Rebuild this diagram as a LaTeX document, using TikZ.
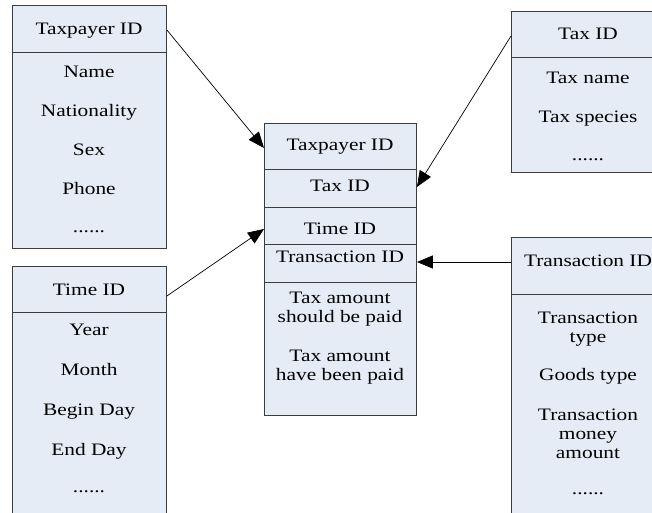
\documentclass[tikz,border=0pt]{standalone}
\usepackage{fontspec}
\setmainfont{Liberation Serif}[FakeStretch=1.22]
\usetikzlibrary{arrows.meta,calc}
\definecolor{boxfill}{RGB}{230,236,246}
\definecolor{boxline}{RGB}{60,60,60}
\tikzset{
  box/.style={draw=boxline, fill=boxfill, line width=0.9pt, inner sep=0pt, anchor=north west},
  sep/.style={draw=boxline, line width=0.9pt},
  fld/.style={anchor=base, inner sep=0pt, font=\fontsize{17.5}{19}\selectfont},
  arr/.style={draw=black, line width=0.7pt, -{Triangle[length=16pt,width=13pt]}}
}
\begin{document}
\begin{tikzpicture}[x=1pt,y=-1pt]
\useasboundingbox (0,0) rectangle (652,512);
\clip (0,0) rectangle (652,512);

% Taxpayer dimension
\node[box, minimum width=154pt, minimum height=243pt] (tp) at (12,5) {};
\draw[sep] (12,52) -- (166,52);
\node[fld] (tp1) at (89,34) {Taxpayer ID};
\node[fld] (tp2) at (89,77) {Name};
\node[fld] (tp3) at (89,116) {Nationality};
\node[fld] (tp4) at (89,155) {Sex};
\node[fld] (tp5) at (89,194) {Phone};
\node[fld] (tp6) at (89,232) {......};

% Time dimension
\node[box, minimum width=154pt, minimum height=270pt] (tm) at (12,266) {};
\draw[sep] (12,312) -- (166,312);
\node[fld] (tm1) at (89,295) {Time ID};
\node[fld] (tm2) at (89,335) {Year};
\node[fld] (tm3) at (89,375) {Month};
\node[fld] (tm4) at (89,415) {Begin Day};
\node[fld] (tm5) at (89,455) {End Day};
\node[fld] (tm6) at (89,492) {......};

% Fact table
\node[box, minimum width=152pt, minimum height=292pt] (fact) at (264,123) {};
\draw[sep] (264,169) -- (416,169);
\draw[sep] (264,207) -- (416,207);
\draw[sep] (264,244) -- (416,244);
\draw[sep] (264,282) -- (416,282);
\node[fld] (f1) at (340,150) {Taxpayer ID};
\node[fld] (f2) at (340,191) {Tax ID};
\node[fld] (f3) at (340,234) {Time ID};
\node[fld] (f4) at (340,262) {Transaction ID};
\node[fld] (f5) at (340,303) {Tax amount};
\node[fld] (f6) at (340,322) {should be paid};
\node[fld] (f7) at (340,361) {Tax amount};
\node[fld] (f8) at (340,380) {have been paid};

% Tax dimension
\node[box, minimum width=160pt, minimum height=161pt] (tx) at (511,11) {};
\draw[sep] (511,57) -- (671,57);
\node[fld] (tx1) at (588,39) {Tax ID};
\node[fld] (tx2) at (588,83) {Tax name};
\node[fld] (tx3) at (588,122) {Tax species};
\node[fld] (tx4) at (588,160) {......};

% Transaction dimension
\node[box, minimum width=160pt, minimum height=300pt] (tr) at (511,237) {};
\draw[sep] (511,294) -- (671,294);
\node[fld] (tr1) at (588,266) {Transaction ID};
\node[fld] (tr2) at (588,323) {Transaction};
\node[fld] (tr3) at (588,342) {type};
\node[fld] (tr4) at (588,380) {Goods type};
\node[fld] (tr5) at (588,420) {Transaction};
\node[fld] (tr6) at (588,439) {money};
\node[fld] (tr7) at (588,458) {amount};
\node[fld] (tr8) at (588,494) {......};

% connector endpoints
\coordinate (s1) at ($(tp.north east)+(0,25)$);
\coordinate (e1) at ($(fact.north west)+(0,25)$);
\coordinate (s2) at ($(tx.north west)+(0,25)$);
\coordinate (e2) at ($(fact.north east)+(0,64)$);
\coordinate (s3) at ($(tm.north east)+(0,30)$);
\coordinate (e3) at ($(fact.north west)+(0,106)$);
\coordinate (s4) at ($(tr.north west)+(0,25)$);
\coordinate (e4) at ($(fact.north east)+(0,139)$);

\draw[arr] (s1) -- (e1);
\draw[arr] (s2) -- (e2);
\draw[arr] (s3) -- (e3);
\draw[arr] (s4) -- (e4);
\end{tikzpicture}
\end{document}
